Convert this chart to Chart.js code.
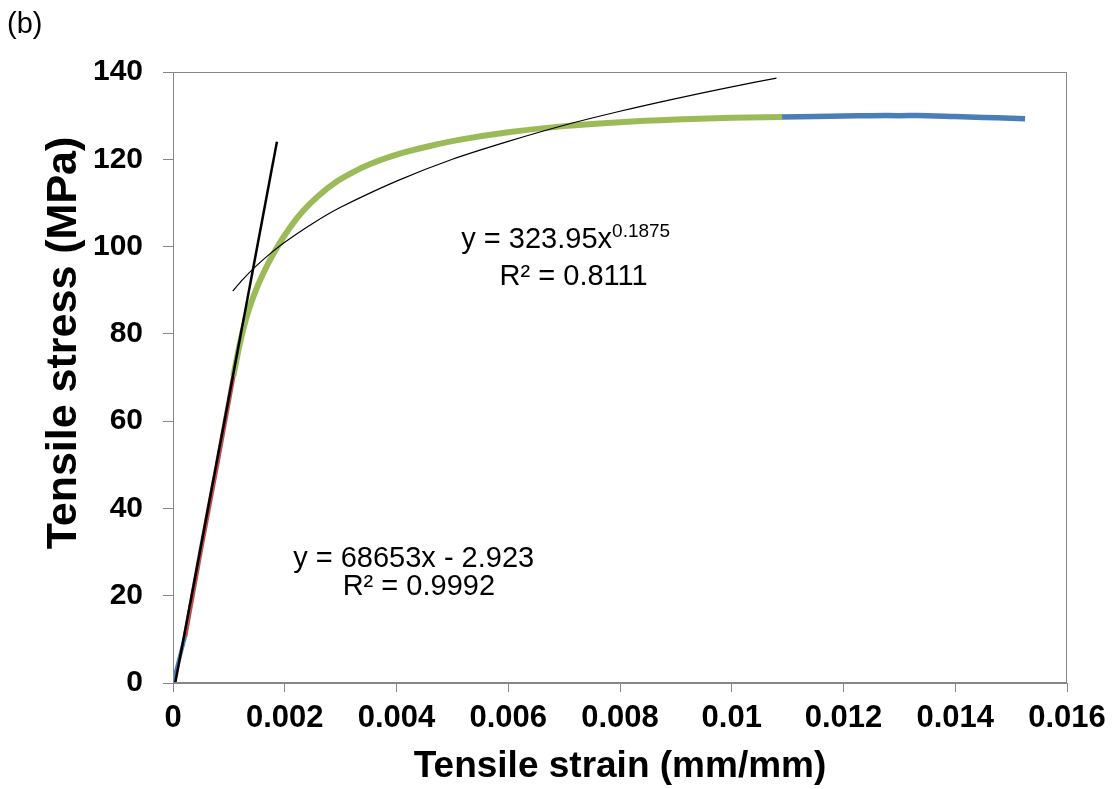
<!DOCTYPE html>
<html>
<head>
<meta charset="utf-8">
<script src="https://cdn.jsdelivr.net/npm/chart.js@4.4.0/dist/chart.umd.min.js"></script>
<style>
body { margin: 0; background: #fff; }
#wrap { width: 1114px; height: 789px; }
</style>
</head>
<body>
<div id="wrap"><canvas id="myChart" width="1114" height="789"></canvas></div>
<script>
// strain (mm/mm) and stress (MPa)
var startStrain = [0, 0.000215];
var startStress = [0, 10.6];
var elasticStrain = [0.000215, 0.0005, 0.0008, 0.00108];
var elasticStress = [10.6, 30.6, 50.8, 70.3];
var plasticStrain = [0.00108, 0.0012, 0.00132, 0.00144, 0.00162, 0.00186, 0.0021, 0.00233, 0.0026, 0.00293, 0.0032, 0.00353, 0.00412, 0.00472, 0.00514, 0.006, 0.007, 0.008, 0.009, 0.01, 0.0109];
var plasticStress = [70.3, 78.0, 84.0, 88.6, 94.0, 99.8, 104.5, 108.2, 111.6, 114.9, 116.9, 118.9, 121.5, 123.4, 124.5, 126.2, 127.6, 128.5, 129.1, 129.5, 129.7];
var tailStrain = [0.0109, 0.0115, 0.012, 0.0125, 0.013, 0.0135, 0.014, 0.0145, 0.015, 0.01525];
var tailStress = [129.7, 129.8, 129.9, 130.0, 130.0, 130.0, 129.8, 129.6, 129.4, 129.3];

// trendlines
var linFitStrain = [0.00004, 0.00186];
var linFitStress = [0, 124];
var powFitStrain = [0.00107, 0.00125, 0.0015, 0.00175, 0.002, 0.0025, 0.003, 0.004, 0.005, 0.006, 0.007, 0.008, 0.009, 0.010, 0.0108];
var powFitStress = [89.8, 92.5, 95.7, 98.5, 101.0, 105.3, 109.0, 115.0, 120.0, 124.1, 127.8, 131.0, 133.9, 136.6, 138.6];

var xTickLabels = ['0', '0.002', '0.004', '0.006', '0.008', '0.01', '0.012', '0.014', '0.016'];
var yTickLabels = ['0', '20', '40', '60', '80', '100', '120', '140'];

var FONT = '"Liberation Sans", Arial, sans-serif';
var AXIS_GRAY = '#868686';

function pts(xs, ys) {
    return xs.map(function(x, i){ return {x: x, y: ys[i]}; });
}

// box round the plot area, equations, y title and panel letter
var extras = {
    id: 'extras',
    afterDraw: function(chart){
        var ctx = chart.ctx;
        var a = chart.chartArea;
        var sx = chart.scales.x, sy = chart.scales.y;

        ctx.save();
        ctx.strokeStyle = AXIS_GRAY;
        ctx.lineWidth = 1;
        ctx.strokeRect(a.left + 0.5, a.top + 0.5, a.right - a.left - 1, a.bottom - a.top - 1);

        ctx.fillStyle = '#000';
        ctx.textBaseline = 'alphabetic';

        // power fit equation
        ctx.font = '29px ' + FONT;
        ctx.textAlign = 'left';
        var px = sx.getPixelForValue(0.00516), py = sy.getPixelForValue(99.6);
        var main = 'y = 323.95x';
        ctx.fillText(main, px, py);
        var w = ctx.measureText(main).width;
        ctx.font = '19px ' + FONT;
        ctx.fillText('0.1875', px + w, py - 11);
        ctx.font = '29px ' + FONT;
        ctx.textAlign = 'center';
        ctx.fillText('R\u00b2 = 0.8111', sx.getPixelForValue(0.00717), sy.getPixelForValue(91.2));

        // linear fit equation
        ctx.textAlign = 'left';
        ctx.fillText('y = 68653x - 2.923', sx.getPixelForValue(0.00215), sy.getPixelForValue(26.65));
        ctx.textAlign = 'center';
        ctx.fillText('R\u00b2 = 0.9992', sx.getPixelForValue(0.0044), sy.getPixelForValue(20.16));

        // y axis title
        ctx.save();
        ctx.translate(a.left - 109, a.top + 271);
        ctx.rotate(-Math.PI / 2);
        ctx.font = 'bold 43px ' + FONT;
        ctx.textAlign = 'center';
        ctx.textBaseline = 'middle';
        ctx.fillText('Tensile stress (MPa)', 0, 0);
        ctx.restore();

        ctx.font = '29px ' + FONT;
        ctx.textAlign = 'left';
        ctx.fillText('(b)', 7, 33);
        ctx.restore();
    }
};

var ctx = document.getElementById('myChart').getContext('2d');
var myChart = new Chart(ctx, {
    type: 'line',
    data: {
        datasets: [
            { data: pts(linFitStrain, linFitStress), borderColor: '#000000', borderWidth: 2.5, order: 0 },
            { data: pts(powFitStrain, powFitStress), borderColor: '#000000', borderWidth: 1.2, tension: 0.3, order: 1 },
            { data: pts(startStrain, startStress), borderColor: '#4a7ebb', borderWidth: 4, order: 2 },
            { data: pts(elasticStrain, elasticStress), borderColor: '#c0504d', borderWidth: 4.5, order: 3 },
            { data: pts(plasticStrain, plasticStress), borderColor: '#9bbb59', borderWidth: 6, cubicInterpolationMode: 'monotone', order: 4 },
            { data: pts(tailStrain, tailStress), borderColor: '#4a7ebb', borderWidth: 5.5, tension: 0.4, order: 5 }
        ]
    },
    options: {
        responsive: false,
        animation: false,
        layout: { padding: { left: 0, top: 72, right: 47, bottom: 0 } },
        elements: { point: { radius: 0 } },
        plugins: { legend: { display: false }, tooltip: { enabled: false } },
        scales: {
            x: {
                type: 'linear',
                min: 0,
                max: 0.016,
                afterFit: function(s){ s.height = 106; },
                ticks: {
                    stepSize: 0.002,
                    autoSkip: false,
                    maxRotation: 0,
                    padding: 8,
                    color: '#000',
                    font: { family: FONT, size: 31, weight: 'bold' },
                    callback: function(v, i){ return xTickLabels[i]; }
                },
                grid: { drawOnChartArea: false, tickLength: 9, color: AXIS_GRAY },
                border: { color: AXIS_GRAY, width: 1 },
                title: {
                    display: true,
                    text: 'Tensile strain (mm/mm)',
                    color: '#000',
                    font: { family: FONT, size: 37, weight: 'bold' },
                    padding: { top: 0, bottom: 0 }
                }
            },
            y: {
                min: 0,
                max: 140,
                afterFit: function(s){ s.width = 173; },
                ticks: {
                    stepSize: 20,
                    padding: 20,
                    color: '#000',
                    font: { family: FONT, size: 30, weight: 'bold' },
                    callback: function(v, i){ return yTickLabels[i]; }
                },
                grid: { drawOnChartArea: false, tickLength: 10, color: AXIS_GRAY },
                border: { color: AXIS_GRAY, width: 1 }
            }
        }
    },
    plugins: [extras]
});
</script>
</body>
</html>
